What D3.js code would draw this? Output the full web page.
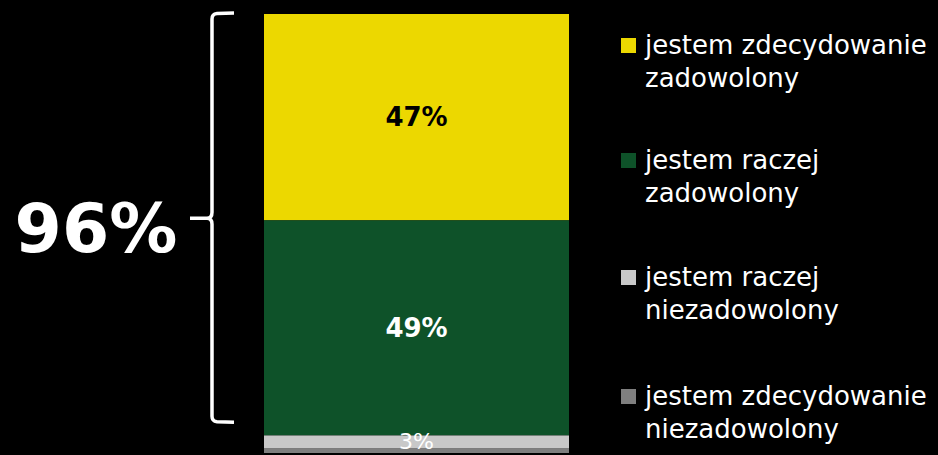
<!DOCTYPE html>
<meta charset="utf-8">
<script src="https://cdn.jsdelivr.net/npm/d3@7"></script>
<style>
body { margin: 0; background: #000; }
text { font-family: "DejaVu Sans", sans-serif; }
</style>
<svg width="938" height="455"></svg>
<script>

// dane
var categories = ["jestem zdecydowanie zadowolony", "jestem raczej zadowolony", "jestem raczej niezadowolony", "jestem zdecydowanie niezadowolony"];
var values = [47, 49, 3, 1];
var labels = ["47%", "49%", "3%", ""];
var total_label = "96%";
var legend_lines = [["jestem zdecydowanie", "zadowolony"], ["jestem raczej", "zadowolony"], ["jestem raczej", "niezadowolony"], ["jestem zdecydowanie", "niezadowolony"]];
var colors = ["#ecd800", "#0e5229", "#c8c8c8", "#7f7f7f"];
var label_colors = ["#000", "#fff", "#fff", "#fff"];

var svg = d3.select("svg");

var y = d3.scaleLinear().domain([0, 100]).range([14, 453]);
var x = d3.scaleBand().domain(["bar"]).range([264, 569]).padding(0);

// stos
var stack = [];
var acc = 0;
values.forEach(function(v, i) {
    stack.push({ y0: acc, y1: acc + v, i: i });
    acc += v;
});

svg.append("g").selectAll("rect")
    .data(stack)
    .enter().append("rect")
    .attr("x", x("bar"))
    .attr("width", x.bandwidth())
    .attr("y", function(d) { return y(d.y0); })
    .attr("height", function(d) { return y(d.y1) - y(d.y0); })
    .attr("fill", function(d) { return colors[d.i]; });

svg.append("g").selectAll("text")
    .data(stack)
    .enter().append("text")
    .attr("x", x("bar") + x.bandwidth() / 2)
    .attr("y", function(d) { return d.i == 2 ? 449 : (y(d.y0) + y(d.y1)) / 2; })
    .attr("dy", function(d) { return d.i == 2 ? 0 : "0.35em"; })
    .attr("text-anchor", "middle")
    .attr("font-size", function(d) { return d.i == 2 ? 22 : 26; })
    .attr("font-weight", function(d) { return d.i == 2 ? "normal" : "bold"; })
    .attr("fill", function(d) { return label_colors[d.i]; })
    .text(function(d) { return labels[d.i]; });

// klamra
var top_y = y(0) - 1, bot_y = y(93), mid_y = y(46.5);
var bx = 212;
var path = d3.path();
path.moveTo(234, top_y);
path.lineTo(bx + 5, top_y + 0.5);
path.quadraticCurveTo(bx, top_y + 1, bx, top_y + 6);
path.lineTo(bx, mid_y - 6);
path.quadraticCurveTo(bx, mid_y, bx - 5, mid_y);
path.lineTo(bx - 22, mid_y);
path.moveTo(bx - 5, mid_y);
path.quadraticCurveTo(bx, mid_y, bx, mid_y + 6);
path.lineTo(bx, bot_y - 6);
path.quadraticCurveTo(bx, bot_y - 1, bx + 5, bot_y - 0.5);
path.lineTo(234, bot_y);
svg.append("path")
    .attr("d", path.toString())
    .attr("fill", "none")
    .attr("stroke", "#fff")
    .attr("stroke-width", 3.5);

svg.append("text")
    .attr("x", 96)
    .attr("y", mid_y + 10)
    .attr("dy", "0.35em")
    .attr("text-anchor", "middle")
    .attr("font-size", 68)
    .attr("font-weight", "bold")
    .attr("fill", "#fff")
    .text(total_label);

// legenda
var legend_y = [45, 160, 277, 396];
var lg = svg.append("g").selectAll("g")
    .data(categories)
    .enter().append("g")
    .attr("transform", function(d, i) { return "translate(621," + legend_y[i] + ")"; });

lg.append("rect")
    .attr("x", 0)
    .attr("y", -7)
    .attr("width", 15)
    .attr("height", 15)
    .attr("fill", function(d, i) { return colors[i]; });

lg.append("text")
    .attr("x", 24)
    .attr("font-size", 26)
    .attr("fill", "#fff")
    .selectAll("tspan")
    .data(function(d, i) { return legend_lines[i]; })
    .enter().append("tspan")
    .attr("x", 24)
    .attr("y", function(d, j) { return j * 33; })
    .attr("dy", "0.35em")
    .text(function(d) { return d; });

</script>
